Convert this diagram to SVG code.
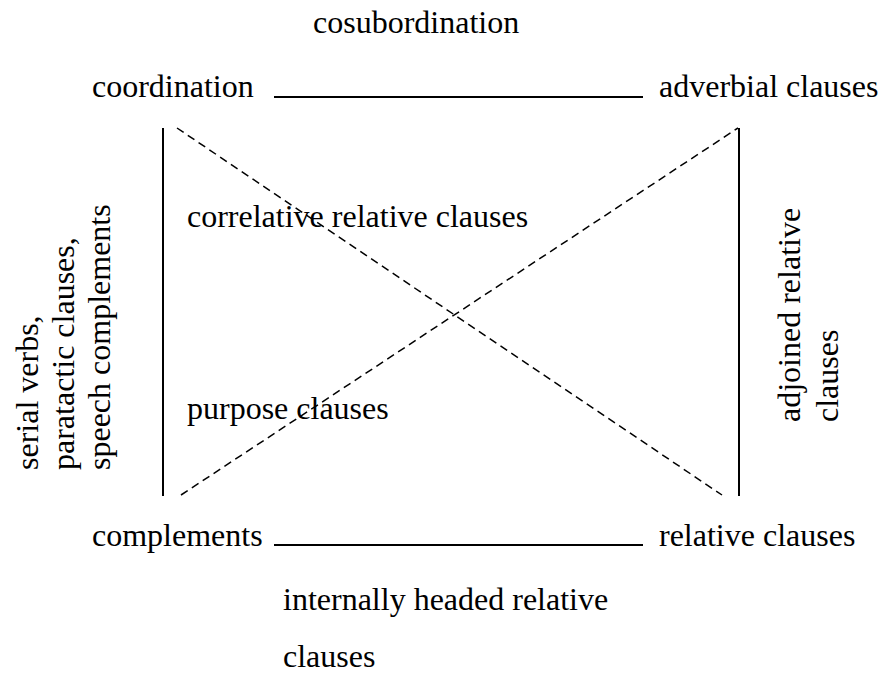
<svg xmlns="http://www.w3.org/2000/svg" width="880" height="677" viewBox="0 0 880 677">
<style>
text{font-family:"Liberation Serif","Times New Roman",serif;font-size:32px;fill:#000}
.solid{stroke:#000;stroke-width:2;fill:none}
.dash{stroke:#000;stroke-width:1.5;fill:none;stroke-dasharray:8,5}
</style>
<rect width="880" height="677" fill="#fff"/>
<g id="connectors">
<line class="solid" x1="274" y1="97" x2="643" y2="97"/>
<line class="solid" x1="274" y1="545" x2="643" y2="545"/>
<line class="solid" x1="163" y1="128" x2="163" y2="496"/>
<line class="solid" x1="739" y1="128" x2="739" y2="496"/>
<line class="dash" x1="177" y1="128" x2="722" y2="495"/>
<line class="dash" x1="181" y1="495" x2="738" y2="128"/>
</g>
<g id="cosubordination"><text x="313" y="33">cosubordination</text></g>
<g id="coordination"><text x="92" y="97">coordination</text></g>
<g id="adverbial"><text x="659" y="97">adverbial clauses</text></g>
<g id="correlative"><text x="187" y="227">correlative relative clauses</text></g>
<g id="purpose"><text x="187" y="419">purpose clauses</text></g>
<g id="complements"><text x="92" y="546">complements</text></g>
<g id="relative"><text x="659" y="546">relative clauses</text></g>
<g id="internally"><text x="283" y="610">internally headed relative</text><text x="283" y="667">clauses</text></g>
<g id="serial" transform="translate(0,470) rotate(-90)">
<text x="0" y="38">serial verbs,</text>
<text x="0" y="74">paratactic clauses,</text>
<text x="0" y="110">speech complements</text>
</g>
<g id="adjoined" transform="translate(0,422) rotate(-90)">
<text x="0" y="800">adjoined relative</text>
<text x="0" y="838">clauses</text>
</g>
</svg>
